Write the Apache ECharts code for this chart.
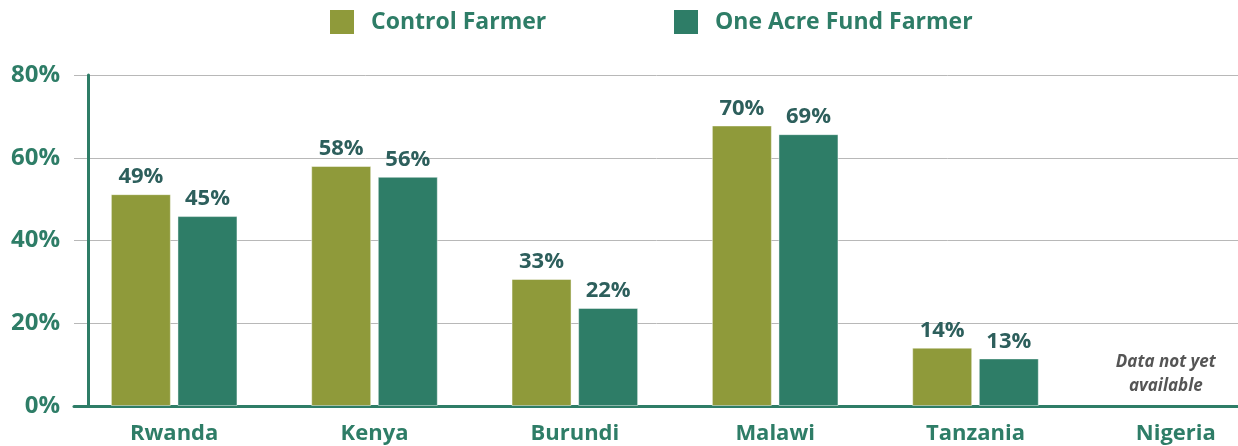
<!DOCTYPE html>
<html>
<head>
<meta charset="utf-8">
<script src="https://cdn.jsdelivr.net/npm/echarts@6/dist/echarts.min.js"></script>
<style>
html,body{margin:0;padding:0;background:#fff;}
#chart{width:1238px;height:446px;}
</style>
</head>
<body>
<div id="chart"></div>
<script>
// ---- data ----
var categories = ['Rwanda', 'Kenya', 'Burundi', 'Malawi', 'Tanzania', 'Nigeria'];
var controlValues = [51.2, 58.0, 30.7, 67.8, 14.1, null];
var oafValues = [45.9, 55.4, 23.7, 65.7, 11.5, null];
var controlLabels = ['49%', '58%', '33%', '70%', '14%', ''];
var oafLabels = ['45%', '56%', '22%', '69%', '13%', ''];
var yTicks = [0, 20, 40, 60, 80];
var noteCategory = 'Nigeria';
var noteText = 'Data not yet\navailable';
var noteValue = 7.7;
var seriesNames = ['Control Farmer', 'One Acre Fund Farmer'];

var FONT = '"Open Sans", "Noto Sans", sans-serif';
var TEAL = '#2e7d67';
var OLIVE = '#8f9a3a';
var LABEL_DARK = '#2d5f5c';

var chart = echarts.init(document.getElementById('chart'), null, {renderer: 'canvas'});

function legendFor(name, left) {
  return {
    data: [name],
    left: left,
    top: 10,
    padding: 0,
    itemWidth: 24,
    itemHeight: 24,
    icon: 'rect',
    itemStyle: {borderWidth: 0},
    selectedMode: false,
    textStyle: {
      fontFamily: FONT,
      fontWeight: 'bold',
      fontSize: 23,
      color: TEAL,
      padding: [0, 0, 0, 12]
    }
  };
}

var option = {
  animation: false,
  legend: [legendFor(seriesNames[0], 330), legendFor(seriesNames[1], 674)],
  grid: {left: 74, top: 75, width: 1202, bottom: 40, containLabel: false, outerBoundsMode: 'none'},
  xAxis: {
    type: 'category',
    data: categories,
    axisLine: {show: true, lineStyle: {color: TEAL, width: 3}},
    axisTick: {show: false},
    axisLabel: {
      margin: 17,
      fontFamily: FONT,
      fontWeight: 'bold',
      fontSize: 22,
      color: TEAL
    }
  },
  yAxis: {
    type: 'value',
    min: 0,
    max: yTicks[yTicks.length - 1],
    interval: 20,
    offset: -14,
    axisLine: {show: true, lineStyle: {color: TEAL, width: 3}},
    axisTick: {show: false},
    splitLine: {show: true, lineStyle: {color: '#b8b8b8', width: 1}},
    axisLabel: {
      margin: 28,
      fontFamily: FONT,
      fontWeight: 'bold',
      fontSize: 24,
      color: TEAL,
      formatter: function (v) { return v + '%'; }
    }
  },
  series: [
    {
      name: seriesNames[0],
      type: 'bar',
      data: controlValues,
      barWidth: 60,
      barGap: '11%',
      itemStyle: {color: OLIVE, borderColor: 'rgba(255,255,255,0.45)', borderWidth: 1},
      label: {
        show: true,
        position: 'top',
        distance: 6,
        fontFamily: FONT,
        fontWeight: 'bold',
        fontSize: 22,
        color: LABEL_DARK,
        formatter: function (p) { return controlLabels[p.dataIndex]; }
      }
    },
    {
      name: seriesNames[1],
      type: 'bar',
      data: oafValues,
      barWidth: 60,
      itemStyle: {color: TEAL, borderColor: 'rgba(255,255,255,0.45)', borderWidth: 1},
      label: {
        show: true,
        position: 'top',
        distance: 6,
        fontFamily: FONT,
        fontWeight: 'bold',
        fontSize: 22,
        color: LABEL_DARK,
        formatter: function (p) { return oafLabels[p.dataIndex]; }
      }
    },
    {
      name: 'note',
      type: 'scatter',
      data: [[noteCategory, noteValue]],
      symbolSize: 1,
      itemStyle: {color: 'rgba(0,0,0,0)'},
      silent: true,
      label: {
        show: true,
        position: 'inside',
        offset: [-10, 0],
        formatter: noteText,
        fontFamily: FONT,
        fontWeight: 'bold',
        fontStyle: 'italic',
        fontSize: 17,
        lineHeight: 24,
        color: '#2b2b2b',
        align: 'center'
      }
    }
  ]
};
chart.setOption(option);
</script>
</body>
</html>
